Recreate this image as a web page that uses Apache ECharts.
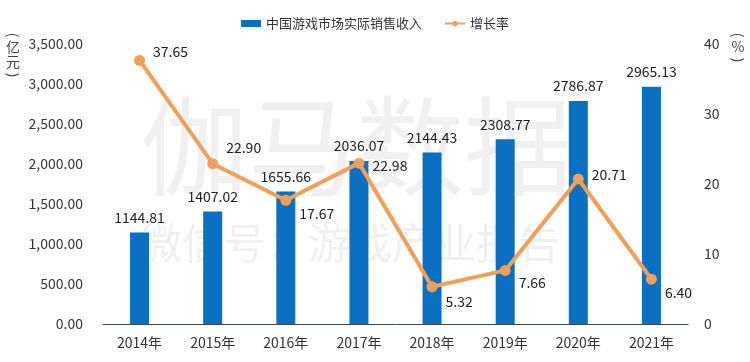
<!DOCTYPE html>
<html>
<head>
<meta charset="utf-8">
<script src="https://cdn.jsdelivr.net/npm/echarts@6/dist/echarts.min.js"></script>
<style>html,body{margin:0;padding:0;background:#fff}#c{width:750px;height:362px}</style>
</head>
<body>
<div id="c"></div>
<script>
var categories = ['2014年','2015年','2016年','2017年','2018年','2019年','2020年','2021年'];
var revenue = [1144.81, 1407.02, 1655.66, 2036.07, 2144.43, 2308.77, 2786.87, 2965.13];
var growth = [37.65, 22.90, 17.67, 22.98, 5.32, 7.66, 20.71, 6.40];
var leftTicks = [0, 500, 1000, 1500, 2000, 2500, 3000, 3500];
var rightTicks = [0, 10, 20, 30, 40];

var labelOffsets = [[0,-9],[0,-16],[0,13],[0,3],[0,15],[0,12],[0,-4],[0,13]];
var FONT = '"Noto Sans CJK SC", "Noto Sans", sans-serif';

function vText(x, y, chars) {
  var els = [];
  var yy = y;
  chars.forEach(function(ch, i){
    var isParen = (ch === '(' || ch === ')');
    els.push({type: 'text', x: x, y: yy + (isParen ? 5 : 7), rotation: isParen ? -Math.PI/2 : 0,
      style: {text: ch, fontSize: 14, fontFamily: FONT, fill: '#444', align: 'center', verticalAlign: 'middle'}});
    yy += isParen ? 10 : 15;
  });
  return els;
}

var chart = echarts.init(document.getElementById('c'));
chart.setOption({
  animation: false,
  textStyle: {fontFamily: FONT},
  legend: {
    top: 12, left: 'center', itemGap: 22,
    textStyle: {fontSize: 13, color: '#333'},
    itemWidth: 20, itemHeight: 7,
    data: [{name: '中国游戏市场实际销售收入', icon: 'rect'}, {name: '增长率'}]
  },
  grid: {left: 103, right: 62, top: 44, bottom: 38},
  graphic: [
    {type: 'text', x: 140, y: 92, silent: true, z: -1,
     style: {text: '伽马数据', font: '108px "Noto Sans CJK SC"', fill: 'rgba(205,205,205,0.3)', letterSpacing: 16}},
    {type: 'text', x: 140, y: 222, silent: true, z: -1,
     style: {text: '微信号：游戏产业报告', font: '42px "Noto Sans CJK SC"', fill: 'rgba(205,205,205,0.3)', letterSpacing: 9}}
  ].concat(vText(13, 30, ['(', '亿', '元', ')'])).concat(vText(738, 30, ['(', '%', ')'])),
  xAxis: {
    type: 'category', data: categories,
    axisLine: {lineStyle: {color: '#3a4a5a', width: 1}},
    axisTick: {show: false},
    axisLabel: {fontSize: 14, color: '#333', margin: 12}
  },
  yAxis: [
    {type: 'value', min: leftTicks[0], max: leftTicks[leftTicks.length-1], interval: 500,
     splitLine: {show: false}, axisLine: {show: false}, axisTick: {show: false},
     axisLabel: {fontSize: 14, color: '#333', margin: 20,
       formatter: function(v){return v.toLocaleString('en-US',{minimumFractionDigits:2, maximumFractionDigits:2});}}},
    {type: 'value', min: rightTicks[0], max: rightTicks[rightTicks.length-1], interval: 10,
     splitLine: {show: false}, axisLine: {show: false}, axisTick: {show: false},
     axisLabel: {fontSize: 14, color: '#333', margin: 16}}
  ],
  series: [
    {name: '中国游戏市场实际销售收入', type: 'bar', data: revenue, barWidth: 19,
     itemStyle: {color: '#0b6fc2'},
     label: {show: true, position: 'top', distance: 8, fontSize: 14, color: '#222',
       formatter: function(p){return p.value.toFixed(2);}}},
    {name: '增长率', type: 'line', yAxisIndex: 1,
     data: growth.map(function(v,i){return {value: v, label: {offset: labelOffsets[i]}};}),
     symbol: 'circle', symbolSize: 11,
     lineStyle: {color: '#f0a05a', width: 4},
     itemStyle: {color: '#f0a05a'},
     label: {show: true, position: 'right', distance: 8, fontSize: 14, color: '#222',
       formatter: function(p){return p.value.toFixed(2);}}}
  ]
});
</script>
</body>
</html>
